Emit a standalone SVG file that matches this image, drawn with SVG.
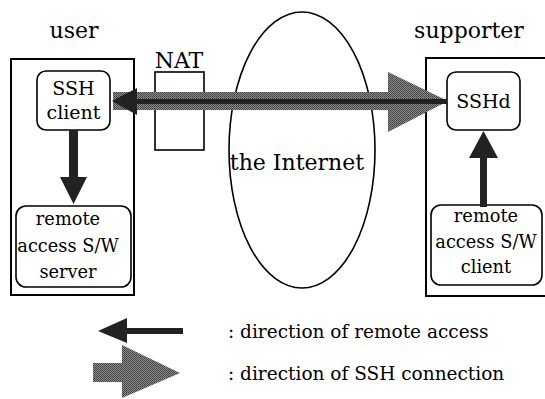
<svg xmlns="http://www.w3.org/2000/svg" width="545" height="399" viewBox="0 0 545 399">
<style>
text{font-family:"DejaVu Serif","Liberation Serif",serif;font-size:19px;fill:#000;text-anchor:middle}
.big{font-size:22px}
.sm{font-size:17.8px}
.lbl{text-anchor:start;font-size:18.5px}
.frame{fill:none;stroke:#000;stroke-width:2}
.node{fill:#fff;stroke:#000;stroke-width:1.6}
.ssh{fill:url(#halftone)}
.ra{fill:#222}
</style>
<defs>
<pattern id="halftone" width="2" height="2" patternUnits="userSpaceOnUse">
<rect width="2" height="2" fill="#8c8c8c"/>
<rect width="1" height="1" fill="#3c3c3c"/>
<rect x="1" y="1" width="1" height="1" fill="#4c4c4c"/>
</pattern>
</defs>
<rect width="545" height="399" fill="#fff"/>
<g id="user">
<text class="big" x="74" y="38">user</text>
<rect class="frame" x="11" y="59" width="123" height="236"/>
</g>
<g id="supporter">
<text class="big" x="469" y="38">supporter</text>
<rect class="frame" x="426" y="58" width="130" height="238"/>
</g>
<g id="internet">
<ellipse cx="302" cy="150" rx="73" ry="138" fill="none" stroke="#000" stroke-width="1.6"/>
<text class="big" x="297" y="170">the Internet</text>
</g>
<g id="nat">
<text class="big" x="179" y="68">NAT</text>
<rect x="155" y="72" width="49" height="78" fill="#fff" stroke="#000" stroke-width="1.6"/>
</g>
<g id="ssh-client">
<rect class="node" x="37" y="71" width="73" height="59" rx="9"/>
<text x="73.5" y="95">SSH</text>
<text x="73.5" y="119">client</text>
</g>
<g id="sshd">
<rect class="node" x="447" y="72" width="73" height="58" rx="9"/>
<text x="483.5" y="108">SSHd</text>
</g>
<g id="ra-server">
<rect class="node" x="16" y="206" width="115" height="81" rx="10"/>
<text class="sm" x="68" y="225">remote</text>
<text class="sm" x="68" y="252">access S/W</text>
<text class="sm" x="68" y="278">server</text>
</g>
<g id="ra-client">
<rect class="node" x="431" y="205" width="111" height="80" rx="10"/>
<text class="sm" x="486" y="222">remote</text>
<text class="sm" x="486" y="248">access S/W</text>
<text class="sm" x="486" y="273">client</text>
</g>
<g id="connectors">
<polygon class="ssh" points="113,92 388,92 388,72 448,101 388,132 388,110 113,110"/>
<polygon class="ra" points="447,99 137,99 137,88 112,101 137,115 137,104 447,104"/>
<polygon class="ra" points="69,130 78,130 78,177 87,177 73.5,204 60,177 69,177"/>
<polygon class="ra" points="480,207 487,207 487,158 498,158 483.5,131 469,158 480,158"/>
</g>
<g id="legend">
<polygon class="ra" points="183,328 127,328 127,318 98,331 127,343 127,334 183,334"/>
<polygon class="ssh" points="93,363 122,363 122,345 180,373 122,398 122,382 93,382"/>
<text class="lbl" x="228" y="338">: direction of remote access</text>
<text class="lbl" x="228" y="380">: direction of SSH connection</text>
</g>
</svg>
